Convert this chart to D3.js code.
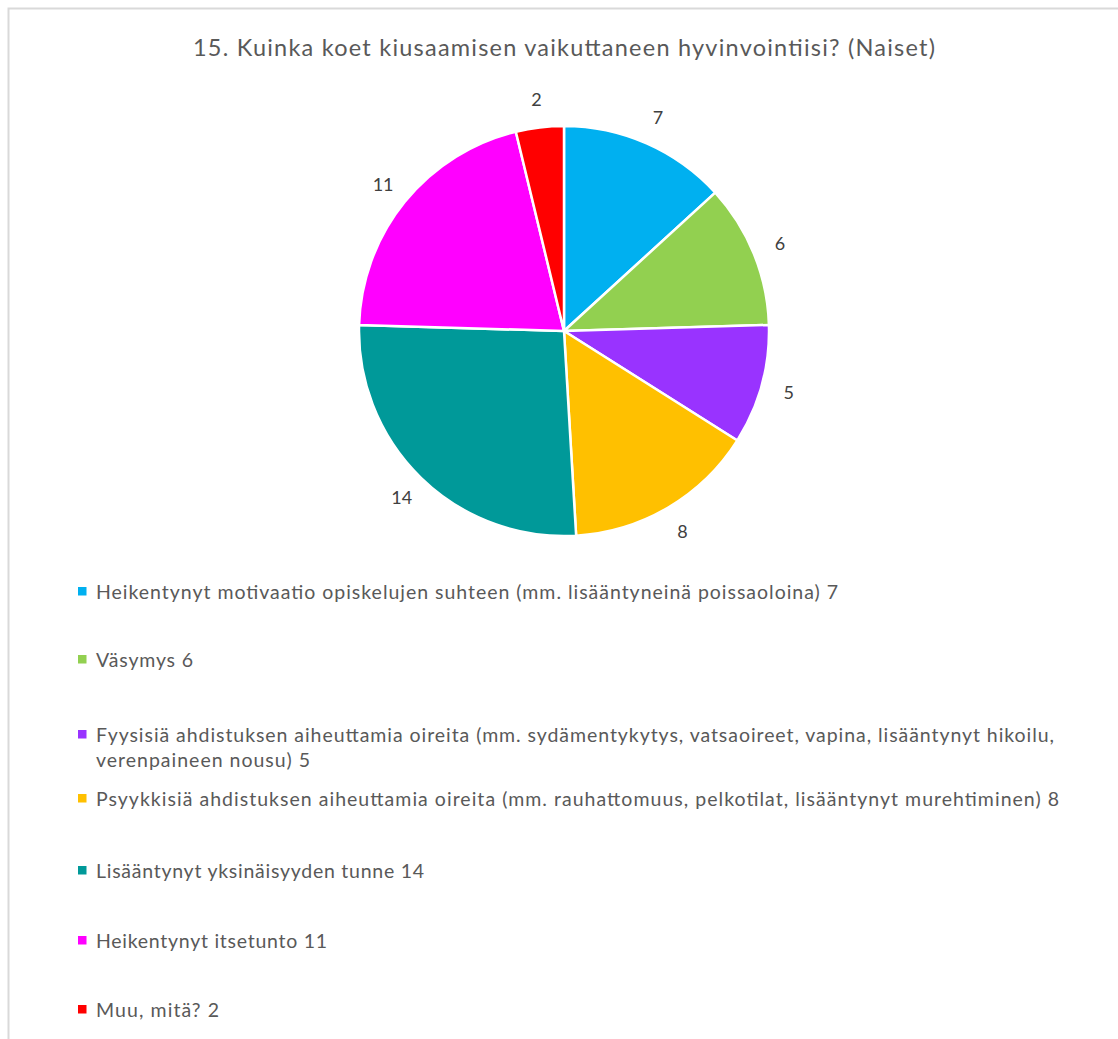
<!DOCTYPE html>
<html>
<head>
<meta charset="utf-8">
<script src="https://cdn.jsdelivr.net/npm/d3@7"></script>
<style>
  html, body { margin: 0; padding: 0; background: #ffffff; }
  svg { display: block; }
</style>
</head>
<body>
<script>
const title = "15. Kuinka koet kiusaamisen vaikuttaneen hyvinvointiisi? (Naiset)";
const categories = [
  "Heikentynyt motivaatio opiskelujen suhteen (mm. lisääntyneinä poissaoloina)",
  "Väsymys",
  "Fyysisiä ahdistuksen aiheuttamia oireita (mm. sydämentykytys, vatsaoireet, vapina, lisääntynyt hikoilu, verenpaineen nousu)",
  "Psyykkisiä ahdistuksen aiheuttamia oireita (mm. rauhattomuus, pelkotilat, lisääntynyt murehtiminen)",
  "Lisääntynyt yksinäisyyden tunne",
  "Heikentynyt itsetunto",
  "Muu, mitä?"
];
const values = [7, 6, 5, 8, 14, 11, 2];
const colors = ["#00B0F0", "#92D050", "#9933FF", "#FFC000", "#009999", "#FF00FF", "#FF0000"];
// legend lines (item 3 wraps onto two lines)
const legendLines = [
  ["Heikentynyt motivaatio opiskelujen suhteen (mm. lisääntyneinä poissaoloina) 7"],
  ["Väsymys 6"],
  ["Fyysisiä ahdistuksen aiheuttamia oireita (mm. sydämentykytys, vatsaoireet, vapina, lisääntynyt hikoilu,", "verenpaineen nousu) 5"],
  ["Psyykkisiä ahdistuksen aiheuttamia oireita (mm. rauhattomuus, pelkotilat, lisääntynyt murehtiminen) 8"],
  ["Lisääntynyt yksinäisyyden tunne 14"],
  ["Heikentynyt itsetunto 11"],
  ["Muu, mitä? 2"]
];

const W = 1118, H = 1039;
const FONT = "Lato, 'Open Sans', 'Liberation Sans', sans-serif";

const svg = d3.select("body").append("svg").attr("width", W).attr("height", H);
svg.append("rect").attr("width", W).attr("height", H).attr("fill", "#fff");

// chart border
svg.append("rect")
  .attr("x", 8.5).attr("y", 8.5)
  .attr("width", W + 20).attr("height", H + 20)
  .attr("fill", "none").attr("stroke", "#d9d9d9").attr("stroke-width", 2);

// title
svg.append("text")
  .attr("x", 564).attr("y", 56)
  .attr("text-anchor", "middle")
  .attr("font-family", FONT).attr("font-size", 23.5)
  .attr("fill", "#595959")
  .attr("textLength", 742)
  .text(title);

// pie
const cx = 564, cy = 331, R = 205, labelR = 233;
const pie = d3.pie().sort(null).value(d => d)(values);
const arc = d3.arc().innerRadius(0).outerRadius(R);
const labelArc = d3.arc().innerRadius(labelR).outerRadius(labelR);

const g = svg.append("g").attr("transform", `translate(${cx},${cy})`);
g.selectAll("path.slice")
  .data(pie)
  .join("path")
  .attr("class", "slice")
  .attr("d", arc)
  .attr("fill", (d, i) => colors[i])
  .attr("stroke", "#ffffff")
  .attr("stroke-width", 2.5)
  .attr("stroke-linejoin", "round");

g.selectAll("text.lbl")
  .data(pie)
  .join("text")
  .attr("class", "lbl")
  .attr("transform", d => `translate(${labelArc.centroid(d)})`)
  .attr("text-anchor", "middle")
  .attr("dy", "0.35em")
  .attr("font-family", FONT).attr("font-size", 18)
  .attr("fill", "#404040")
  .text(d => d.data);

// legend
const legendBaselines = [[599], [667], [742, 767], [806], [878], [948], [1017]];
const legendWidths = [[742], [97], [958, 214], [963], [328], [231], [123]];
const lg = svg.append("g");
legendLines.forEach((lines, i) => {
  const yb = legendBaselines[i][0];
  lg.append("rect")
    .attr("x", 78).attr("y", yb - 12)
    .attr("width", 8.5).attr("height", 8.5)
    .attr("fill", colors[i]);
  lines.forEach((ln, j) => {
    lg.append("text")
      .attr("x", 96).attr("y", legendBaselines[i][j])
      .attr("font-family", FONT).attr("font-size", 19.5)
      .attr("fill", "#595959")
      .attr("textLength", legendWidths[i][j])
      .text(ln);
  });
});
</script>
</body>
</html>
